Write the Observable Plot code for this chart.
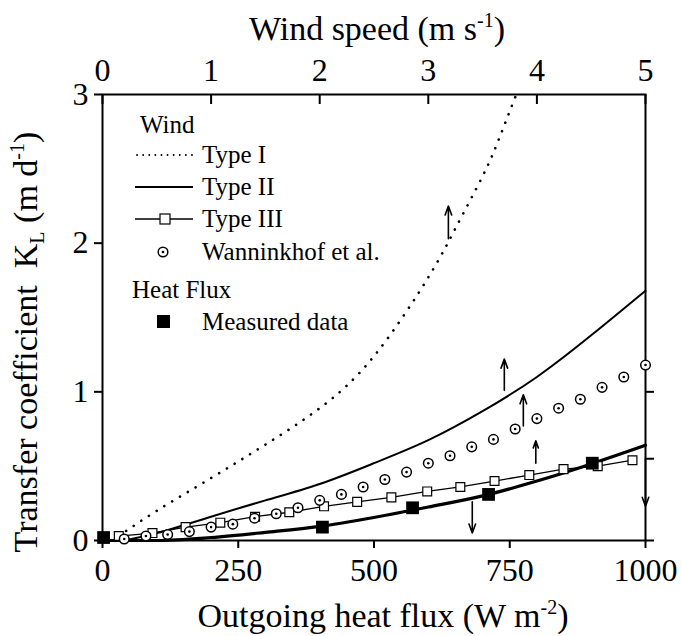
<!DOCTYPE html>
<html>
<head>
<meta charset="utf-8">
<script src="https://cdn.jsdelivr.net/npm/d3@7"></script>
<script src="https://cdn.jsdelivr.net/npm/@observablehq/plot@0.6"></script>
<style>
  html, body { margin: 0; padding: 0; background: #fff; }
  svg { display: block; }
</style>
</head>
<body>
<div id="chart"></div>
<script>
// ---------- data ----------
const typeI_x = [30, 100, 200, 300, 400, 500, 600, 650, 700, 730, 762];
const typeI_y = [0.03, 0.2, 0.42, 0.645, 0.89, 1.24, 1.77, 2.1, 2.45, 2.7, 3.0];

const typeII_x = [40, 100, 200, 300, 400, 500, 600, 700, 800, 900, 1000];
const typeII_y = [0, 0.05, 0.16, 0.27, 0.38, 0.52, 0.675, 0.87, 1.10, 1.38, 1.68];

const typeIII_x = [30, 92, 153, 217, 281, 344, 408, 469, 532, 598, 659, 722, 786, 849, 912, 976];
const typeIII_y = [0.03, 0.05, 0.09, 0.12, 0.16, 0.19, 0.23, 0.26, 0.29, 0.33, 0.36, 0.40, 0.44, 0.48, 0.50, 0.54];

const wann_x = [40, 80, 120, 160, 200, 240, 280, 320, 360, 400, 440, 480, 520, 560, 600, 640, 680, 720, 760, 800, 840, 880, 920, 960, 1000];
const wann_y = [0.01, 0.03, 0.04, 0.06, 0.09, 0.11, 0.15, 0.18, 0.22, 0.27, 0.31, 0.36, 0.41, 0.46, 0.52, 0.57, 0.63, 0.68, 0.75, 0.82, 0.89, 0.95, 1.03, 1.10, 1.18];

const fit_x = [0, 100, 200, 300, 400, 500, 600, 700, 800, 900, 1000];
const fit_y = [0, 0, 0.02, 0.055, 0.095, 0.155, 0.225, 0.30, 0.40, 0.515, 0.64];

const meas_x = [2, 405, 571, 711, 902];
const meas_y = [0.02, 0.09, 0.22, 0.31, 0.52];

const arrow_x  = [637, 740, 775, 798, 681, 1000];
const arrow_y1 = [2.03, 1.01, 0.77, 0.52, 0.26, 0.55];
const arrow_y2 = [2.25, 1.22, 0.98, 0.67, 0.05, 0.23];

const xTicks = [0, 250, 500, 750, 1000];
const yTicks = [0, 1, 2, 3];
const windTicks = [0, 1, 2, 3, 4, 5];
const windToFlux = 200; // 5 m/s spans the same width as 1000 W m-2
const rightTicks = [0, 0.55, 1];

// ---------- build ----------
const zip = (xs, ys) => xs.map((x, i) => ({x, y: ys[i]}));
const typeI = zip(typeI_x, typeI_y);
const typeII = zip(typeII_x, typeII_y);
const typeIII = zip(typeIII_x, typeIII_y);
const wann = zip(wann_x, wann_y);
const fit = zip(fit_x, fit_y);
const meas = zip(meas_x, meas_y);
const arrows = arrow_x.map((x, i) => ({x, y1: arrow_y1[i], y2: arrow_y2[i]}));

const W = 682, H = 636, mL = 102, mR = 37, mT = 94, mB = 96;
const plotW = W - mL - mR, plotH = H - mT - mB;
const FONT = '"Liberation Serif", "Times New Roman", serif';

const chart = Plot.plot({
  width: W, height: H,
  marginLeft: mL, marginRight: mR, marginTop: mT, marginBottom: mB,
  style: {fontFamily: FONT, fontSize: "32px", color: "#000", background: "#fff"},
  x: {domain: [0, 1000]},
  y: {domain: [0, 3]},
  marks: [
    Plot.frame({stroke: "#000", strokeWidth: 2}),
    Plot.axisX({anchor: "bottom", ticks: xTicks, tickFormat: d => String(d), tickSize: 8, tickPadding: 10, label: null, fontSize: 32, strokeWidth: 2}),
    Plot.axisY({anchor: "left", ticks: yTicks, tickFormat: d => String(d), tickSize: 8, tickPadding: 6, label: null, fontSize: 32, strokeWidth: 2}),
    Plot.axisX({anchor: "top", ticks: windTicks.map(w => w * windToFlux), tickFormat: d => String(d / windToFlux), tickSize: 0, tickPadding: 14, label: null, fontSize: 32}),
    Plot.tickX(windTicks, {x: d => d * windToFlux, insetBottom: plotH - 10, strokeWidth: 2}),
    Plot.tickY(rightTicks, {y: d => d, insetLeft: plotW, insetRight: -9, strokeWidth: 2}),
    // curves
    Plot.line(typeI, {x: "x", y: "y", curve: "natural", stroke: "#000", strokeWidth: 2.6, strokeDasharray: "0.1 9", strokeLinecap: "round"}),
    Plot.line(typeII, {x: "x", y: "y", curve: "natural", stroke: "#000", strokeWidth: 2}),
    Plot.line(fit, {x: "x", y: "y", curve: "monotone-x", stroke: "#000", strokeWidth: 3.2}),
    Plot.line(typeIII, {x: "x", y: "y", stroke: "#000", strokeWidth: 1.3}),
    Plot.dot(typeIII, {x: "x", y: "y", symbol: "square", r: 5, fill: "#fff", stroke: "#000", strokeWidth: 1.2}),
    Plot.dot(wann, {x: "x", y: "y", r: 4.8, fill: "#fff", stroke: "#000", strokeWidth: 1.5}),
    Plot.dot(wann, {x: "x", y: "y", r: 1.3, fill: "#000"}),
    Plot.dot(meas, {x: "x", y: "y", symbol: "square", r: 7.2, fill: "#000"}),
    Plot.arrow(arrows, {x: "x", y1: "y1", y2: "y2", stroke: "#000", strokeWidth: 1.6, headLength: 9, headAngle: 40})
  ]
});

document.getElementById("chart").appendChild(chart);

// ---------- titles and legend ----------
const svg = d3.select(chart);
svg.selectAll("text").style("font-family", FONT).style("font-variant", "normal");

const g = svg.append("g").attr("font-family", FONT).attr("fill", "#000").attr("text-anchor", "start");

// top title
const tt = g.append("text").attr("x", 377).attr("y", 40).attr("text-anchor", "middle").attr("font-size", 34);
tt.append("tspan").text("Wind speed (m s");
tt.append("tspan").attr("font-size", 20).attr("dy", -13).text("-1");
tt.append("tspan").attr("dy", 13).text(")");

// bottom title
const bt = g.append("text").attr("x", 383).attr("y", 627).attr("text-anchor", "middle").attr("font-size", 34);
bt.append("tspan").text("Outgoing heat flux (W m");
bt.append("tspan").attr("font-size", 20).attr("dy", -13).text("-2");
bt.append("tspan").attr("dy", 13).text(")");

// left title
const lt = g.append("text").attr("transform", "translate(37,342) rotate(-90)").attr("text-anchor", "middle").attr("font-size", 34);
lt.append("tspan").text("Transfer coefficient\u00a0\u00a0K");
lt.append("tspan").attr("font-size", 20).attr("dy", 7).text("L");
lt.append("tspan").attr("dy", -7).text(" (m d");
lt.append("tspan").attr("font-size", 20).attr("dy", -13).text("-1");
lt.append("tspan").attr("dy", 13).text(")");

// legend
const LF = 25;
g.append("text").attr("x", 140).attr("y", 133).attr("font-size", LF).text("Wind");
const rows = [
  {y: 155, label: "Type I"},
  {y: 187, label: "Type II"},
  {y: 219, label: "Type III"},
  {y: 252, label: "Wanninkhof et al."}
];
rows.forEach(r => g.append("text").attr("x", 202).attr("y", r.y + 8).attr("font-size", LF).text(r.label));
g.append("line").attr("x1", 137).attr("x2", 193).attr("y1", 155).attr("y2", 155)
  .attr("stroke", "#000").attr("stroke-width", 1.8).attr("stroke-dasharray", "0.1 6").attr("stroke-linecap", "round");
g.append("line").attr("x1", 135).attr("x2", 193).attr("y1", 187).attr("y2", 187).attr("stroke", "#000").attr("stroke-width", 2);
g.append("line").attr("x1", 135).attr("x2", 193).attr("y1", 219).attr("y2", 219).attr("stroke", "#000").attr("stroke-width", 1.5);
g.append("rect").attr("x", 160).attr("y", 214).attr("width", 10).attr("height", 10).attr("fill", "#fff").attr("stroke", "#000").attr("stroke-width", 1.2);
g.append("circle").attr("cx", 163).attr("cy", 252).attr("r", 4.8).attr("fill", "#fff").attr("stroke", "#000").attr("stroke-width", 1.5);
g.append("circle").attr("cx", 163).attr("cy", 252).attr("r", 1.3).attr("fill", "#000");

g.append("text").attr("x", 132).attr("y", 298).attr("font-size", LF).text("Heat Flux");
g.append("rect").attr("x", 157).attr("y", 315).attr("width", 13).attr("height", 13).attr("fill", "#000");
g.append("text").attr("x", 202).attr("y", 330).attr("font-size", LF).text("Measured data");
</script>
</body>
</html>
